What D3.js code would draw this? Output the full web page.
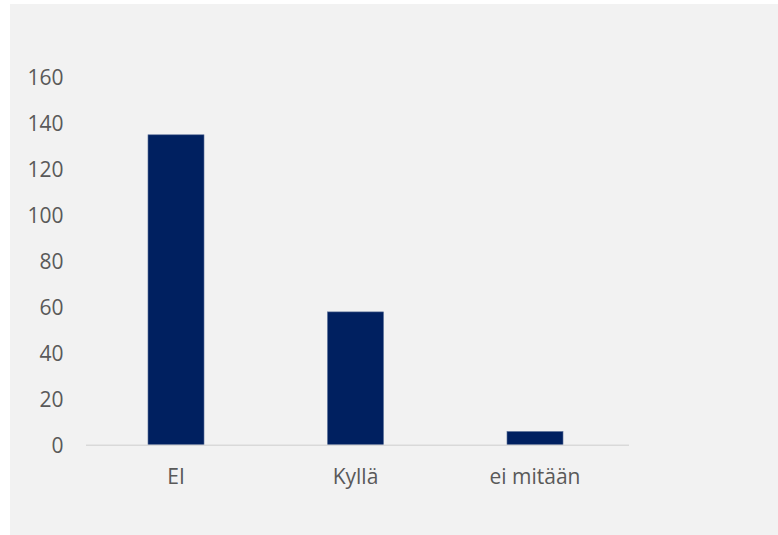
<!DOCTYPE html>
<html><head><meta charset="utf-8">
<script src="https://cdn.jsdelivr.net/npm/d3@7"></script>
<style>html,body{margin:0;padding:0;background:#fff;}svg{display:block;}</style>
</head><body>
<svg id="chart" width="778" height="535"></svg>
<script>
const categories = ["EI", "Kyllä", "ei mitään"];
const values = [135, 58, 6];
const yTicks = [0, 20, 40, 60, 80, 100, 120, 140, 160];

const svg = d3.select("#chart");
svg.append("rect").attr("x", 10).attr("y", 4).attr("width", 768).attr("height", 531).attr("fill", "#f2f2f2");

const x = d3.scaleBand().domain(categories).range([86.25, 624.75]).paddingInner(0.688).paddingOuter(0.344);
const y = d3.scaleLinear().domain([0, 160]).range([445.3, 77.3]);

const font = "'Open Sans', sans-serif";

// y axis labels
const yAxis = d3.axisLeft(y).tickValues(yTicks).tickSize(0).tickPadding(0).tickFormat(d3.format("d"));
const gy = svg.append("g").attr("transform", "translate(63.5,0)").call(yAxis);
gy.select(".domain").remove();
gy.selectAll("text").attr("fill", "#595959").style("font-family", font).style("font-size", "21px").attr("dy", "0.36em");

// bars
svg.append("g").selectAll("rect").data(categories).join("rect")
  .attr("x", d => x(d))
  .attr("y", (d, i) => y(values[i]))
  .attr("width", x.bandwidth())
  .attr("height", (d, i) => y(0) - y(values[i]))
  .attr("fill", "#002060")
  .attr("stroke", "#5a6f98")
  .attr("stroke-width", 0.6);

// x axis
const xAxis = d3.axisBottom(x).tickSize(0).tickPadding(0);
const gx = svg.append("g").attr("transform", `translate(0,${y(0)})`).call(xAxis);
gx.select(".domain").remove();
gx.append("line").attr("x1", 86).attr("x2", 629).attr("y1", 0).attr("y2", 0)
  .attr("stroke", "#d9d9d9").attr("stroke-width", 1.5);
gx.selectAll("text").attr("fill", "#595959").style("font-family", font).style("font-size", "21px").attr("y", 39).attr("dy", "0");
</script>
</body></html>
